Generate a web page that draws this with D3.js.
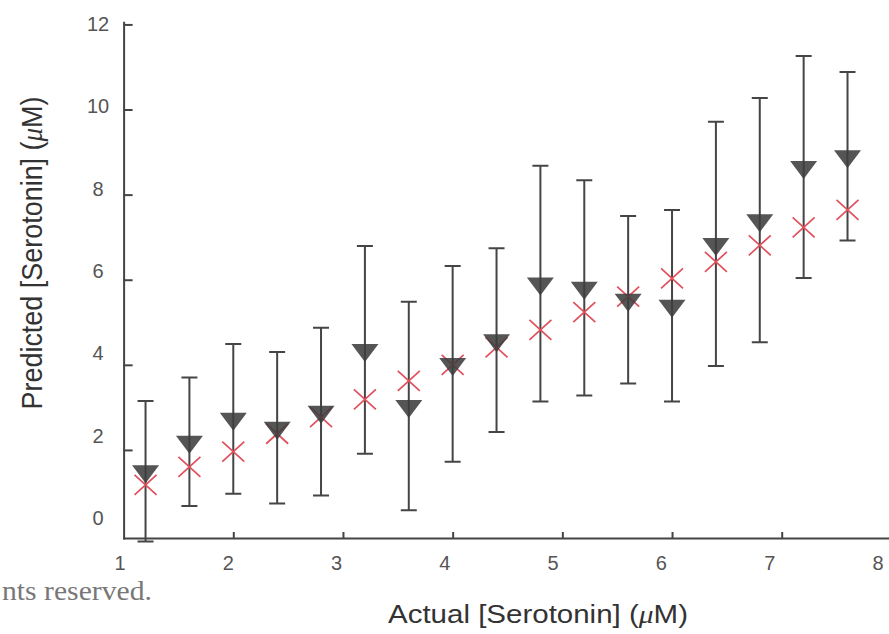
<!DOCTYPE html>
<html>
<head>
<meta charset="utf-8">
<script src="https://cdn.jsdelivr.net/npm/d3@7"></script>
<style>
  html, body { margin: 0; padding: 0; background: #fff; }
  svg { display: block; }
</style>
</head>
<body>
<svg id="chart" width="889" height="634" font-family="Liberation Sans, Arial, Helvetica, sans-serif"></svg>
<script>
// ---- data ----
const actual = [1.2, 1.6, 2.0, 2.4, 2.8, 3.2, 3.6, 4.0, 4.4, 4.8, 5.2, 5.6, 6.0, 6.4, 6.8, 7.2, 7.6];
const actualY = [1.18, 1.60, 1.96, 2.38, 2.77, 3.19, 3.62, 4.00, 4.41, 4.82, 5.24, 5.60, 6.03, 6.42, 6.81, 7.23, 7.64];
const predictedMean = [1.50, 2.19, 2.73, 2.52, 2.90, 4.35, 3.03, 4.02, 4.58, 5.91, 5.81, 5.53, 5.39, 6.84, 7.40, 8.65, 8.90];
const predictedErr = [1.65, 1.51, 1.76, 1.78, 1.97, 2.44, 2.45, 2.30, 2.16, 2.77, 2.53, 1.97, 2.25, 2.87, 2.87, 2.61, 1.98];
const xTicks = [1, 2, 3, 4, 5, 6, 7, 8];
const yTicks = [0, 2, 4, 6, 8, 10, 12];
const xTitle = "Actual [Serotonin] (";
const yTitle = "Predicted [Serotonin] (";
const footerText = "nts reserved.";

const svg = d3.select("#chart");
svg.append("rect").attr("width", 889).attr("height", 634).attr("fill", "#fff");

// scales for marks / tick marks
const x = d3.scaleLinear().domain([1, 8]).range([123.6, 891.4]);
const y = d3.scaleLinear().domain([-0.07, 12.05]).range([538, 22.3]);
// scales for tick labels (labels in the reference sit slightly off the tick marks)
const xLab = d3.scaleLinear().domain([1, 8]).range([120, 878]);
const yLab = d3.scaleLinear().domain([0, 12]).range([518, 24]);

const axisColor = "#444";

// x axis
const gx = svg.append("g").attr("transform", `translate(0,${y(-0.07)})`)
  .call(d3.axisBottom(x).tickValues(xTicks.slice(1)).tickSizeInner(-6).tickSizeOuter(0).tickFormat(""));
// y axis
const gy = svg.append("g").attr("transform", `translate(${x(1)},0)`)
  .call(d3.axisLeft(y).tickValues(yTicks.slice(1)).tickSizeInner(-9).tickSizeOuter(0).tickFormat(""));
[gx, gy].forEach(g => {
  g.select(".domain").attr("stroke", axisColor).attr("stroke-width", 2).attr("stroke-linecap", "square");
  g.selectAll(".tick line").attr("stroke", axisColor).attr("stroke-width", 2);
});

// tick labels
svg.append("g").selectAll("text").data(xTicks).join("text")
  .attr("x", d => xLab(d)).attr("y", 570)
  .attr("text-anchor", "middle").attr("font-size", 20).attr("fill", "#555")
  .text(d => d);
svg.append("g").selectAll("text").data(yTicks).join("text")
  .attr("x", 98).attr("y", d => yLab(d)).attr("dy", "0.35em")
  .attr("text-anchor", "middle").attr("font-size", 20).attr("fill", "#555")
  .text(d => d);

// axis titles
const xt = svg.append("text").attr("x", 538).attr("y", 623)
  .attr("text-anchor", "middle").attr("font-size", 26).attr("fill", "#333")
  .attr("textLength", 300).attr("lengthAdjust", "spacingAndGlyphs");
xt.append("tspan").text(xTitle);
xt.append("tspan").attr("font-style", "italic").attr("font-family", "Liberation Serif, serif").text("\u03bc");
xt.append("tspan").text("M)");

const yt = svg.append("text").attr("transform", "translate(42,253) scale(1.15,1) rotate(-90)")
  .attr("text-anchor", "middle").attr("font-size", 26).attr("fill", "#333")
  .attr("textLength", 313).attr("lengthAdjust", "spacingAndGlyphs");
yt.append("tspan").text(yTitle);
yt.append("tspan").attr("font-style", "italic").attr("font-family", "Liberation Serif, serif").text("\u03bc");
yt.append("tspan").text("M)");

// footer fragment
svg.append("text").attr("x", 152).attr("y", 600).attr("text-anchor", "end")
  .attr("font-family", "Liberation Serif, Times New Roman, serif").attr("font-size", 28).attr("fill", "#777")
  .attr("textLength", 150).attr("lengthAdjust", "spacingAndGlyphs")
  .text(footerText);

const pts = actual.map((a, i) => ({ a, ay: actualY[i], m: predictedMean[i], e: predictedErr[i] }));

// error bars
const capW = 8;
const eb = svg.append("g").attr("stroke", "#454545").attr("stroke-width", 2).attr("fill", "none");
eb.selectAll("path").data(pts).join("path")
  .attr("d", d => {
    const cx = x(d.a), y1 = y(d.m + d.e), y0 = y(d.m - d.e);
    return `M${cx},${y1}V${y0}M${cx - capW},${y1}H${cx + capW}M${cx - capW},${y0}H${cx + capW}`;
  });

// red X markers (actual)
const xs = 11, ys = 10;
svg.append("g").attr("stroke", "#e0505c").attr("stroke-width", 1.7).attr("fill", "none")
  .selectAll("path").data(pts).join("path")
  .attr("d", d => {
    const cx = x(d.a), cy = y(d.ay);
    return `M${cx - xs},${cy - ys}L${cx + xs},${cy + ys}M${cx - xs},${cy + ys}L${cx + xs},${cy - ys}`;
  });

// down triangles (predicted), centroid at data point
const tw = 13.5, th = 18;
svg.append("g").attr("fill", "#3d3d3d").attr("fill-opacity", 0.88)
  .selectAll("path").data(pts).join("path")
  .attr("d", d => {
    const cx = x(d.a), cy = y(d.m);
    return `M${cx - tw},${cy - th / 3}L${cx + tw},${cy - th / 3}L${cx},${cy + 2 * th / 3}Z`;
  });
</script>
</body>
</html>
